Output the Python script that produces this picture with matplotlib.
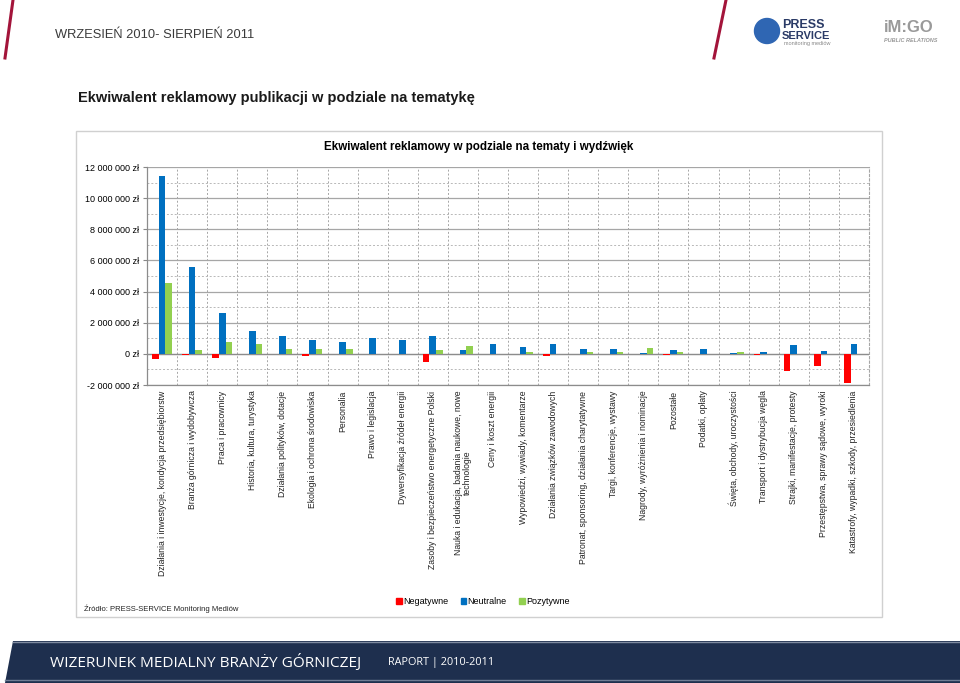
import numpy as np
import matplotlib
matplotlib.use("Agg")
import matplotlib.pyplot as plt
from matplotlib.patches import Rectangle, Polygon, Ellipse, Patch
from matplotlib.lines import Line2D

# dane (zl)
tematy = [
    "Działania i inwestycje, kondycja przedsiębiorstw",
    "Branża górnicza i wydobywcza",
    "Praca i pracownicy",
    "Historia, kultura, turystyka",
    "Działania polityków, dotacje",
    "Ekologia i ochrona środowiska",
    "Personalia",
    "Prawo i legislacja",
    "Dywersyfikacja źródeł energii",
    "Zasoby i bezpieczeństwo energetyczne Polski",
    "Nauka i edukacja, badania naukowe, nowe\ntechnologie",
    "Ceny i koszt energii",
    "Wypowiedzi, wywiady, komentarze",
    "Działania związków zawodowych",
    "Patronat, sponsoring, działania charytatywne",
    "Targi, konferencje, wystawy",
    "Nagrody, wyróżnienia i nominacje",
    "Pozostałe",
    "Podatki, opłaty",
    "Święta, obchody, uroczystości",
    "Transport i dystrybucja węgla",
    "Strajki, manifestacje, protesty",
    "Przestępstwa, sprawy sądowe, wyroki",
    "Katastrofy, wypadki, szkody, przesiedlenia",
]
negatywne = [-320000, -50000, -280000, -30000, -30000, -130000, -30000, -30000,
             0, -520000, 0, 0, 0, -130000, 0, 0, 0, -50000, 0, 0, -50000,
             -1070000, -750000, -1870000]
neutralne = [11440000, 5580000, 2640000, 1500000, 1120000, 900000, 730000, 1000000,
             900000, 1160000, 260000, 640000, 410000, 620000, 340000, 300000,
             80000, 260000, 340000, 80000, 150000, 540000, 190000, 620000]
pozytywne = [4550000, 240000, 790000, 640000, 300000, 340000, 340000, 0,
             0, 240000, 490000, 0, 130000, 0, 150000, 150000, 360000, 150000,
             0, 130000, 0, 0, 0, 0]
y_ticks = [-2000000, 0, 2000000, 4000000, 6000000, 8000000, 10000000, 12000000]

RED = "#FF0000"
BLUE = "#0070C0"
GREEN = "#92D050"

W, H = 960, 683
fig = plt.figure(figsize=(9.6, 6.83), dpi=100)
fig.patch.set_facecolor("white")

def fx(x):
    return x / W

def fy(y):
    return 1 - y / H

# naglowek slajdu
fig.add_artist(Line2D([fx(13), fx(5)], [fy(0), fy(58)], color="#A3143A", lw=2.2))
fig.add_artist(Line2D([fx(726), fx(714)], [fy(0), fy(58)], color="#A3143A", lw=2.2))
fig.text(fx(55), fy(35), "WRZESIEŃ 2010- SIERPIEŃ 2011", fontsize=9.3,
         family="Liberation Sans", color="#3A3A3A", va="center")

# logo PRESS SERVICE (uproszczone)
fig.add_artist(Ellipse((fx(767), fy(31)), 25 / W, 25 / H, transform=fig.transFigure,
                       color="#2F66B3"))
fig.text(fx(782), fy(25), "PRESS", fontsize=9, fontweight="bold", color="#2A3A66",
         va="center", family="Liberation Sans")
fig.text(fx(782), fy(36), "SERVICE", fontsize=8, fontweight="bold", color="#2A3A66",
         va="center", family="Liberation Sans")
fig.text(fx(784), fy(44), "monitoring mediów", fontsize=4, color="#888888",
         va="center", family="Liberation Sans")
fig.text(fx(884), fy(28), "iM:GO", fontsize=12, fontweight="bold", color="#9A9A9A",
         va="center", family="Liberation Sans")
fig.text(fx(884), fy(41), "PUBLIC RELATIONS", fontsize=4, fontweight="bold",
         color="#9A9A9A", va="center", style="italic", family="Liberation Sans")

fig.text(fx(78), fy(98), "Ekwiwalent reklamowy publikacji w podziale na tematykę",
         fontsize=10.5, fontweight="bold", color="#1A1A1A", va="center",
         family="Liberation Sans")

# ramka wykresu
fig.add_artist(Rectangle((fx(76), fy(617)), fx(882 - 76), (617 - 131) / H,
                         transform=fig.transFigure, fill=False,
                         edgecolor="#D0D0D0", lw=1))
fig.text(fx(479), fy(147), "Ekwiwalent reklamowy w podziale na tematy i wydźwięk",
         fontsize=8.4, fontweight="bold", ha="center", va="center",
         family="Liberation Sans")

ax = fig.add_axes([fx(147), fy(385), fx(869 - 147), (385 - 167) / H])
x = np.arange(len(tematy))
bw = 1 / 4.5
ax.bar(x - bw, negatywne, bw, color=RED, zorder=3)
ax.bar(x, neutralne, bw, color=BLUE, zorder=3)
ax.bar(x + bw, pozytywne, bw, color=GREEN, zorder=3)

ax.set_xlim(-0.5, len(tematy) - 0.5)
ax.set_ylim(-2000000, 12000000)
ax.set_yticks(y_ticks)
ax.set_yticklabels([f"{v:,.0f} zł".replace(",", " ") for v in y_ticks],
                   fontsize=6.5, family="Liberation Sans")
ax.set_yticks(np.arange(-1000000, 12000000, 2000000), minor=True)
ax.set_xticks(x)
ax.set_xticklabels(tematy, rotation=90, fontsize=6.2, family="Liberation Sans",
                   ha="center", va="top", linespacing=0.95, color="#222222")
ax.set_xticks(np.arange(-0.5, len(tematy), 1), minor=True)
ax.tick_params(axis="x", which="both", length=0, pad=4)
ax.tick_params(axis="y", which="major", length=3, color="#888888", pad=3)
ax.tick_params(axis="y", which="minor", length=0)

ax.yaxis.grid(True, which="major", color="#A6A6A6", lw=0.9, zorder=0)
ax.yaxis.grid(True, which="minor", color="#B8B8B8", lw=0.7, ls=(0, (2, 2)), zorder=0)
ax.xaxis.grid(True, which="minor", color="#A6A6A6", lw=0.7, ls=(0, (2, 2)), zorder=0)
ax.xaxis.grid(False, which="major")
ax.axhline(0, color="#8C8C8C", lw=0.9, zorder=2)

for s in ["left", "bottom"]:
    ax.spines[s].set_color("#8C8C8C")
    ax.spines[s].set_linewidth(0.9)
ax.spines["top"].set_visible(False)
ax.spines["right"].set_color("#A6A6A6")
ax.spines["right"].set_linestyle((0, (2, 2)))
ax.spines["right"].set_linewidth(0.8)

handles = [Patch(color=RED, label="Negatywne"),
           Patch(color=BLUE, label="Neutralne"),
           Patch(color=GREEN, label="Pozytywne")]
fig.legend(handles=handles, loc="center", bbox_to_anchor=(fx(483), fy(602)), ncol=3,
           frameon=False, handlelength=0.6, handleheight=0.6, handletextpad=0.15,
           columnspacing=1.4, prop={"family": "Liberation Sans", "size": 6.5})
fig.text(fx(84), fy(609), "Źródło: PRESS-SERVICE Monitoring Mediów", fontsize=5.5,
         va="center", family="Liberation Sans", color="#222222")

# stopka
fig.add_artist(Polygon([(fx(13), fy(641)), (1, fy(641)), (1, 0), (fx(5), 0)],
                       closed=True, transform=fig.transFigure,
                       facecolor="#1E2F4E", edgecolor="none"))
fig.add_artist(Line2D([fx(13), 1], [fy(642), fy(642)], color="#7F8BA0", lw=1))
fig.add_artist(Line2D([fx(5), 1], [fy(680), fy(680)], color="#6F7C94", lw=1))
fig.text(fx(50), fy(662), "WIZERUNEK MEDIALNY BRANŻY GÓRNICZEJ", fontsize=11.1,
         color="white", va="center", family="Open Sans")
fig.text(fx(388), fy(663), "RAPORT | 2010-2011", fontsize=7.8,
         color="white", va="center", family="Open Sans")

fig.savefig("out.png", dpi=100)
